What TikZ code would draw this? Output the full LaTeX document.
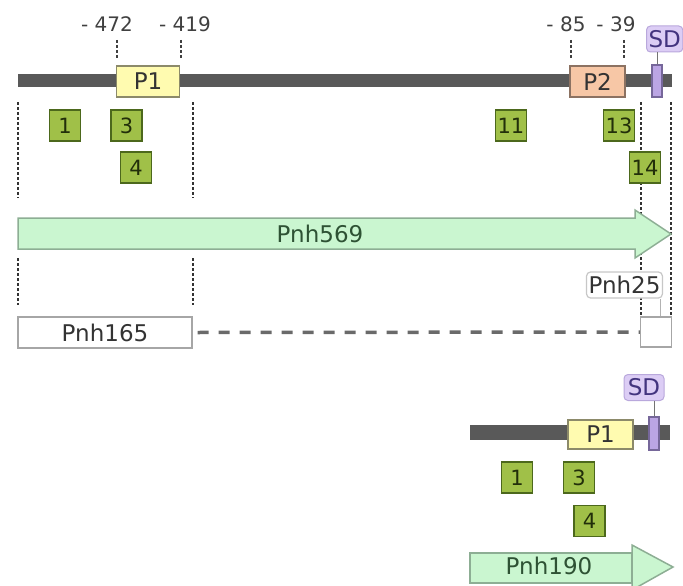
\documentclass[tikz,border=0pt]{standalone}
\usepackage{fontspec}
\setmainfont{DejaVu Sans}
\definecolor{chromgrey}{HTML}{595959}
\definecolor{pyellow}{HTML}{FFFBB0}
\definecolor{pyellowedge}{HTML}{8C8A6A}
\definecolor{ppeach}{HTML}{F7C7A6}
\definecolor{ppeachedge}{HTML}{8C7262}
\definecolor{sdfill}{HTML}{BBA5E4}
\definecolor{sdedge}{HTML}{76679A}
\definecolor{sdlabfill}{HTML}{DCCDF5}
\definecolor{sdlabedge}{HTML}{B9A8DC}
\definecolor{sdtext}{HTML}{43347F}
\definecolor{sitefill}{HTML}{A0C048}
\definecolor{siteedge}{HTML}{4C681C}
\definecolor{sitetext}{HTML}{222F0A}
\definecolor{arrowfill}{HTML}{CAF6D0}
\definecolor{arrowedge}{HTML}{8DAE94}
\definecolor{arrowtext}{HTML}{2E5234}
\definecolor{boxedge}{HTML}{A6A6A6}
\definecolor{labtext}{HTML}{333333}
\definecolor{dashgrey}{HTML}{6A6A6A}
\begin{document}
\begin{tikzpicture}[x=1pt,y=-1pt,
  bigfont/.style={font=\fontsize{23}{26}\selectfont},
  promoter/.style={draw=#1edge, fill=#1, line width=1.2pt, inner sep=0pt,
    minimum width=63pt, minimum height=31pt, bigfont, text=labtext},
  sdbarstyle/.style={draw=sdedge, fill=sdfill, line width=1.2pt, inner sep=0pt,
    minimum width=10pt, minimum height=32pt},
  sdlabel/.style={draw=sdlabedge, fill=sdlabfill, line width=1pt, rounded corners=4pt,
    inner sep=2pt, minimum height=26pt, bigfont, text=sdtext},
  site/.style={draw=siteedge, fill=sitefill, line width=1.6pt, inner sep=0pt,
    minimum width=31pt, minimum height=31pt, font=\fontsize{21}{22}\selectfont, text=sitetext},
  tick/.style={draw=black!75, line width=1.1pt, dash pattern=on 3pt off 2pt},
  guide/.style={draw=black!80, line width=1.1pt, dash pattern=on 3pt off 2pt},
  poslabel/.style={font=\fontsize{20}{22}\selectfont, text=black!75},
  fragbox/.style={draw=boxedge, fill=white, line width=1.2pt, inner sep=0pt},
  arrowbody/.style={draw=arrowedge, fill=arrowfill, line width=1.5pt, line join=miter},
  arrowlabel/.style={bigfont, text=arrowtext},
  connector/.style={draw=black!55, line width=1pt}
]
\useasboundingbox (0,0) rectangle (683,586);

% ---------- upstream region ----------
% dashed guides
\coordinate (g1a) at (18,102);  \coordinate (g1b) at (18,198);
\coordinate (g2a) at (193,102); \coordinate (g2b) at (193,198);
\coordinate (g3a) at (18,258);  \coordinate (g3b) at (18,305);
\coordinate (g4a) at (193,258); \coordinate (g4b) at (193,305);
\coordinate (g5a) at (641,102); \coordinate (g5b) at (641,317);
\coordinate (g6a) at (671,102); \coordinate (g6b) at (671,317);
\draw[guide] (g1a) -- (g1b);
\draw[guide] (g2a) -- (g2b);
\draw[guide] (g3a) -- (g3b);
\draw[guide] (g4a) -- (g4b);
\draw[guide] (g5a) -- (g5b);
\draw[guide] (g6a) -- (g6b);

% chromosome
\fill[chromgrey] (18,74) rectangle (672,87);

% promoters
\node[promoter=pyellow] (p1) at (148,81.5) {P1};
\node[promoter=ppeach, minimum width=55pt] (p2) at (597.5,81.5) {P2};

% position ticks and labels
\coordinate (t1a) at (117,40); \coordinate (t1b) at (117,58);
\coordinate (t2a) at (181,40); \coordinate (t2b) at (181,58);
\coordinate (t3a) at (571,40); \coordinate (t3b) at (571,58);
\coordinate (t4a) at (624,40); \coordinate (t4b) at (624,58);
\draw[tick] (t1a) -- (t1b);
\draw[tick] (t2a) -- (t2b);
\draw[tick] (t3a) -- (t3b);
\draw[tick] (t4a) -- (t4b);
\node[poslabel] (l472) at (107,24) {- 472};
\node[poslabel] (l419) at (185,24) {- 419};
\node[poslabel] (l85)  at (566,24) {- 85};
\node[poslabel] (l39)  at (616,24) {- 39};

% SD
\node[sdbarstyle] (sd) at (657,81) {};
\node[sdlabel, anchor=west] (sdlab) at (646,39) {SD};
\draw[connector] (sd.north) -- (sd.north |- sdlab.south);

% binding sites
\node[site] (s1)  at (65,125.5)  {1};
\node[site] (s3)  at (126.5,125.5) {3};
\node[site] (s4)  at (136,167.5) {4};
\node[site] (s11) at (511,125.5) {11};
\node[site] (s13) at (619,125.5) {13};
\node[site] (s14) at (645,167.5) {14};

% Pnh569
\draw[arrowbody] (18,218) -- (635,218) -- (635,210) -- (671,234) -- (635,258)
  -- (635,249) -- (18,249) -- cycle;
\node[arrowlabel] (pnh569) at (320,234) {Pnh569};

% Pnh165, gap and Pnh25
\node[fragbox, minimum width=174pt, minimum height=31pt, bigfont, text=labtext]
  (pnh165) at (105,332.5) {Pnh165};
\node[fragbox, minimum width=31pt, minimum height=30pt] (box25) at (656,332) {};
\draw[dashgrey, line width=3.5pt, dash pattern=on 11pt off 10pt]
  ([xshift=5pt]pnh165.east) -- (box25.west);
\node[fragbox, draw=black!22, rounded corners=4pt, inner sep=2pt,
  minimum height=26pt, bigfont, text=labtext] (lab25) at (624.5,285) {Pnh25};
\coordinate (c25) at (660,0);
\draw[connector, draw=black!30] (lab25.south -| c25) -- (box25.north -| c25);

% ---------- Pnh190 construct ----------
\fill[chromgrey] (470,425) rectangle (670,440);
\node[promoter=pyellow, minimum width=65pt, minimum height=29pt] (p1b) at (600.5,434.5) {P1};
\node[sdbarstyle, minimum height=33pt] (sdb) at (654,433.5) {};
\node[sdlabel, minimum width=40pt] (sdlabb) at (644,387.5) {SD};
\draw[connector] (sdb.north) -- (sdb.north |- sdlabb.south);

\node[site] (b1) at (517,477.5) {1};
\node[site] (b3) at (579,477.5) {3};
\node[site] (b4) at (589.5,521) {4};

\draw[arrowbody] (470,553) rectangle (632,583);
\draw[arrowbody] (632,545) -- (673,567) -- (632,590) -- cycle;
\node[arrowlabel] (pnh190) at (549,566) {Pnh190};
\end{tikzpicture}
\end{document}
